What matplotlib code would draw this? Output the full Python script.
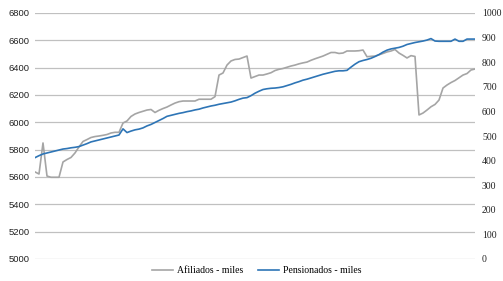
import matplotlib
matplotlib.use("Agg")
import matplotlib.pyplot as plt
import numpy as np

# Afiliados (miles) - left axis
afiliados = [5637, 5622, 5849, 5607, 5598, 5598, 5598, 5710, 5728, 5743,
             5776, 5820, 5860, 5874, 5889, 5896, 5900, 5905, 5911, 5922,
             5927, 5927, 5995, 6010, 6043, 6061, 6072, 6081, 6090, 6094,
             6072, 6088, 6101, 6112, 6127, 6141, 6151, 6156, 6156, 6156,
             6156, 6169, 6169, 6169, 6169, 6188, 6346, 6361, 6419, 6449,
             6460, 6463, 6474, 6485, 6324, 6335, 6346, 6346, 6354, 6363,
             6379, 6388, 6394, 6403, 6412, 6419, 6428, 6435, 6441, 6454,
             6465, 6475, 6485, 6498, 6511, 6511, 6504, 6507, 6522, 6522,
             6522, 6524, 6529, 6480, 6483, 6485, 6494, 6504, 6515, 6522,
             6533, 6507, 6490, 6471, 6488, 6482, 6054, 6068, 6090, 6114,
             6131, 6163, 6251, 6273, 6291, 6306, 6326, 6346, 6357, 6383,
             6390]

# Pensionados (miles) - right axis
pensionados = [412, 420, 427, 431, 435, 439, 443, 447, 449, 452,
               454, 457, 463, 469, 476, 480, 484, 488, 492, 496,
               500, 504, 529, 514, 520, 525, 528, 533, 541, 547,
               555, 563, 571, 580, 584, 588, 592, 595, 599, 602,
               606, 609, 614, 618, 622, 625, 629, 632, 635, 638,
               643, 649, 654, 656, 664, 674, 682, 689, 692, 694,
               695, 697, 700, 705, 710, 716, 721, 727, 731, 736,
               741, 746, 751, 755, 759, 763, 765, 765, 767, 780,
               792, 802, 807, 811, 816, 823, 831, 841, 849, 854,
               857, 860, 865, 872, 876, 880, 883, 886, 890, 896,
               886, 885, 885, 885, 885, 894, 885, 885, 894, 894,
               894]

left_ticks = [5000, 5200, 5400, 5600, 5800, 6000, 6200, 6400, 6600, 6800]
right_ticks = [0, 100, 200, 300, 400, 500, 600, 700, 800, 900, 1000]

labels = ["Afiliados - miles", "Pensionados - miles"]
GRAY = "#A5A5A5"
BLUE = "#2E75B6"

fig = plt.figure(figsize=(5.03, 2.81), dpi=100)
ax = fig.add_axes([35/503, 1 - 259/281, 440/503, 246/281])
ax2 = ax.twinx()

x = np.arange(len(afiliados))
l1, = ax.plot(x, afiliados, color=GRAY, lw=1.2, label=labels[0])
l2, = ax2.plot(x, pensionados, color=BLUE, lw=1.2, label=labels[1])

ax.set_xlim(0, len(afiliados) - 1)
ax.set_ylim(5000, 6800)
ax2.set_ylim(0, 1000)
ax.set_yticks(left_ticks)
ax2.set_yticks(right_ticks)
ax.set_xticks([])

ax.grid(axis="y", color="#C0C0C0", lw=0.9)
ax.set_axisbelow(True)
for a in (ax, ax2):
    for s in a.spines.values():
        s.set_visible(False)
    a.tick_params(length=0)

ax.tick_params(axis="y", pad=4, labelsize=6.8, labelcolor="#222222")
for t in ax.get_yticklabels():
    t.set_fontfamily("Liberation Sans")
ax2.tick_params(axis="y", pad=5, labelsize=7, labelcolor="#222222")
for t in ax2.get_yticklabels():
    t.set_fontfamily("Liberation Serif")

fig.legend([l1, l2], labels, loc="lower center", bbox_to_anchor=(0.51, -0.01),
           ncol=2, frameon=False, handlelength=2.2, handletextpad=0.4,
           columnspacing=1.5, prop={"family": "Liberation Serif", "size": 7})

fig.savefig("out.png", dpi=100)
